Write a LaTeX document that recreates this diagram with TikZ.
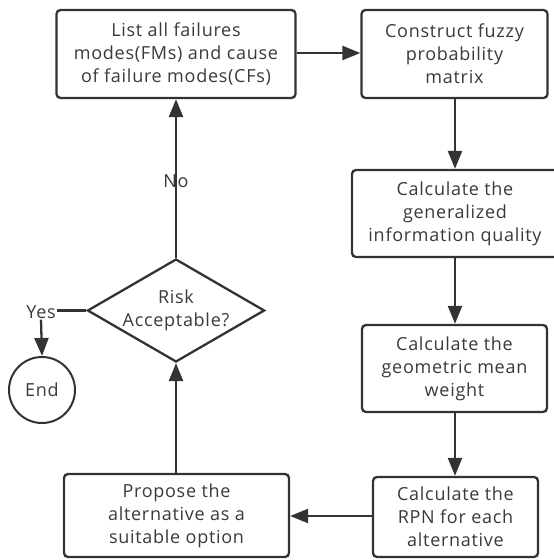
\documentclass[tikz,border=0pt]{standalone}
\usepackage{fontspec}
\setmainfont[LetterSpace=4]{Open Sans}
\usetikzlibrary{arrows.meta,shapes.geometric}
\definecolor{ln}{HTML}{333333}
\definecolor{tx}{HTML}{3A3A3A}
\begin{document}
\begin{tikzpicture}[x=1pt,y=-1pt,
  every node/.style={font=\fontsize{18}{23}\selectfont, text=tx, align=center, inner sep=0pt},
  box/.style={draw=ln, line width=2.3pt, rounded corners=4pt, fill=white, rectangle},
  conn/.style={draw=ln, line width=2.3pt},
  arr/.style={conn, -{Triangle[length=18pt,width=14pt]}}]
\useasboundingbox (0,0) rectangle (554,560);
\node[box, minimum width=239pt, minimum height=88pt] (b1) at (176,54) {List all failures\\modes(FMs) and cause\\of failure modes(CFs)};
\node[box, minimum width=186pt, minimum height=88pt] (b2) at (454.5,54) {Construct fuzzy\\probability\\matrix};
\node[box, minimum width=206pt, minimum height=87pt] (b3) at (455,213.5) {Calculate the\\generalized\\information quality};
\node[box, minimum width=185pt, minimum height=87pt] (b4) at (454.5,368.5) {Calculate the\\geometric mean\\weight};
\node[box, minimum width=165pt, minimum height=80pt] (b5) at (455.5,517) {Calculate the\\RPN for each\\alternative};
\node[box, minimum width=225pt, minimum height=83pt] (b6) at (176.5,515.5) {Propose the\\alternative as a\\suitable option};
\node[diamond, draw=ln, line width=2.3pt, aspect=1.72, minimum width=172pt, minimum height=100pt] (dm) at (176,310.5) {Risk\\Acceptable?};
\node[circle, draw=ln, line width=2pt, minimum size=66pt] (end) at (42,390) {End};
\node[inner sep=1pt] (yes) at (41,312) {Yes};
\node[fill=white, inner sep=2pt] (no) at (176,181) {No};

\draw[arr] (b1.east |- 0,53) -- (b2.west |- 0,53);
\draw[arr] (b2.south -| 455,0) -- (b3.north -| 455,0);
\draw[arr] (b3.south -| 455,0) -- (b4.north -| 455,0);
\draw[arr] (b4.south -| 455,0) -- (b5.north -| 455,0);
\draw[arr] (b5.west |- 0,516) -- (b6.east |- 0,516);
\draw[arr] (b6.north -| dm.south) -- (dm.south);
\draw[conn] (dm.north) -- (no.north);
\draw[arr] (no.south) -- (b1.south -| no.south);
\draw[conn] (dm.west) -- (yes.east |- dm.west);
\draw[arr] (yes.south) -- (end.north);
\end{tikzpicture}
\end{document}
